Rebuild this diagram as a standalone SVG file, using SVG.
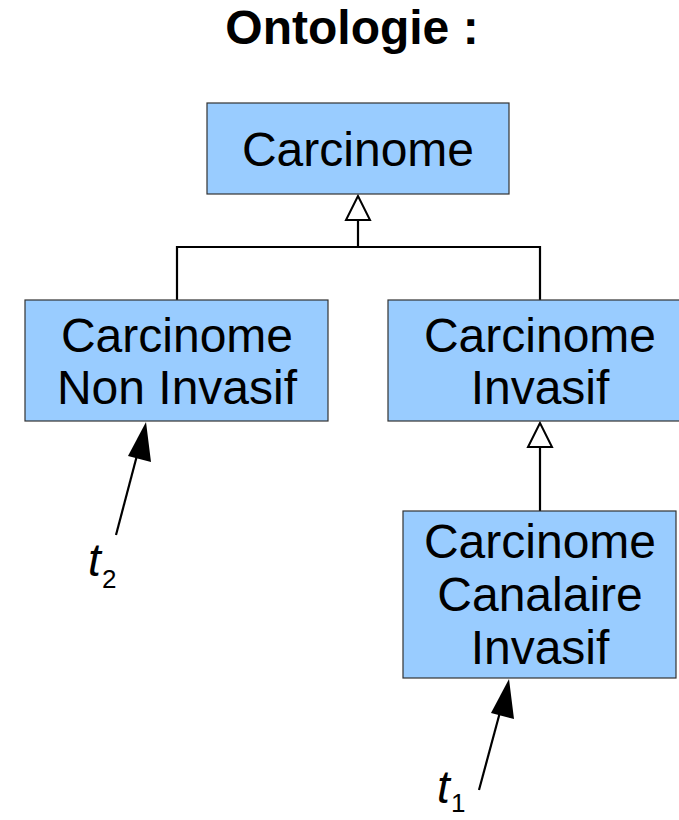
<svg xmlns="http://www.w3.org/2000/svg" width="679" height="820" viewBox="0 0 679 820">
  <style>
    .box { fill: #99ccff; stroke: #333333; stroke-width: 1.2; }
    .lbl { font-family: "Liberation Sans", Arial, sans-serif; font-size: 48px; fill: #000; text-anchor: middle; }
    .title { font-family: "Liberation Sans", Arial, sans-serif; font-size: 48px; font-weight: bold; fill: #000; text-anchor: middle; }
    .tvar { font-family: "Liberation Sans", Arial, sans-serif; font-size: 46px; font-style: italic; fill: #000; }
    .sub { font-family: "Liberation Sans", Arial, sans-serif; font-size: 26px; fill: #000; }
    .edge { fill: none; stroke: #000; stroke-width: 2.2; }
    .gen { fill: #fff; stroke: #000; stroke-width: 2; }
    .ptr { fill: none; stroke: #000; stroke-width: 2.2; }
  </style>

  <rect width="679" height="820" fill="#fff"/>

  <text class="title" x="352" y="44">Ontologie :</text>

  <g id="connectors">
    <!-- generalisation: two subclasses to Carcinome -->
    <polyline class="edge" points="177,300 177,247 540,247 540,300"/>
    <line class="edge" x1="358" y1="247" x2="358" y2="220"/>
    <polygon class="gen" points="358,196 346,220 370,220"/>
    <!-- generalisation: Canalaire Invasif to Invasif -->
    <line class="edge" x1="540" y1="511" x2="540" y2="447"/>
    <polygon class="gen" points="540,423 528,447 552,447"/>
    <!-- instance pointers -->
    <line class="ptr" x1="116" y1="535" x2="140" y2="444"/>
    <polygon points="146,422 151,462 128,456" fill="#000"/>
    <line class="ptr" x1="479" y1="790" x2="503" y2="701"/>
    <polygon points="509,679 514,719 491,713" fill="#000"/>
  </g>

  <g id="carcinome">
    <rect class="box" x="207" y="103" width="302" height="91"/>
    <text class="lbl" x="358" y="166">Carcinome</text>
  </g>

  <g id="carcinome-non-invasif">
    <rect class="box" x="25" y="300" width="303" height="121"/>
    <text class="lbl" x="177" y="352">Carcinome</text>
    <text class="lbl" x="177" y="404">Non Invasif</text>
  </g>

  <g id="carcinome-invasif">
    <rect class="box" x="388" y="300" width="292" height="121"/>
    <text class="lbl" x="540" y="352">Carcinome</text>
    <text class="lbl" x="540" y="404">Invasif</text>
  </g>

  <g id="carcinome-canalaire-invasif">
    <rect class="box" x="403" y="511" width="273" height="167"/>
    <text class="lbl" x="540" y="558">Carcinome</text>
    <text class="lbl" x="540" y="611">Canalaire</text>
    <text class="lbl" x="540" y="664">Invasif</text>
  </g>

  <g id="t2">
    <text class="tvar" x="88" y="576">t</text>
    <text class="sub" x="102" y="588">2</text>
  </g>

  <g id="t1">
    <text class="tvar" x="437" y="803">t</text>
    <text class="sub" x="451" y="812">1</text>
  </g>
</svg>
